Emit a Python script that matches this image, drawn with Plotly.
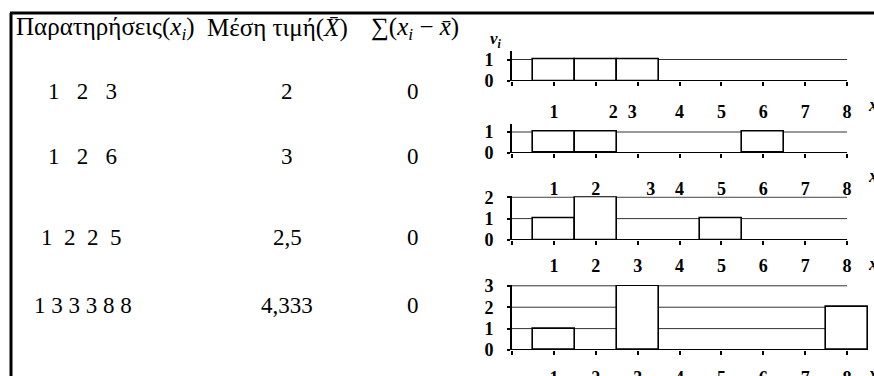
import plotly.graph_objects as go
from collections import Counter

# table rows
observations = [[1, 2, 3], [1, 2, 6], [1, 2, 2, 5], [1, 3, 3, 3, 8, 8]]
obs_labels = ["1   2   3", "1   2   6", "1  2  2  5", "1 3 3 3 8 8"]
mean_labels = ["2", "3", "2,5", "4,333"]
dev_labels = ["0", "0", "0", "0"]
headers = ["Παρατηρήσεις(<i>x<sub>i</sub></i>)", "Μέση τιμή(<i>X\u0304</i>)",
           "∑(<i>x<sub>i</sub></i> − <i>x\u0304</i>)"]

# frequency charts
x_values = [1, 2, 3, 4, 5, 6, 7, 8]
tick_text = ["1", "2", "3", "4", "5", "6", "7", "8"]
freqs = [[Counter(o)[x] for x in x_values] for o in observations]

W, H = 874, 376
serif = "Liberation Serif"

def px(x):
    return x / W

def py(y):
    return 1 - y / H

# pixel layout of the four small charts: (zero line px, px per unit, y range top)
rows = [(81, 21.5, 1.38), (153, 21, 1.4), (240, 21.4, 2.04), (350, 21.4, 3.04)]
# where the printed x labels actually sit (the scan has some out of place)
label_spots = [
    [1, 2.42, 2.87, 4, 5, 6, 7, 8],
    [1, 2, 3.31, 4, 5, 6, 7, 8],
    [1, 2, 3, 4, 5, 6, 7, 8],
    [1, 2, 3, 4, 5, 6, 7, 8],
]
label_gap = [18, 23, 13, 15]

fig = go.Figure()
shapes = []
annotations = []

for i, (bot, unit, ytop) in enumerate(rows):
    top = bot - unit * ytop
    n = "" if i == 0 else str(i + 1)
    xs = [x for x, f in zip(x_values, freqs[i]) if f > 0]
    ys = [f for f in freqs[i] if f > 0]
    fig.add_trace(go.Bar(x=xs, y=ys, width=1, xaxis="x" + n, yaxis="y" + n,
                         marker=dict(color="white", line=dict(color="black", width=1.6)),
                         showlegend=False, hoverinfo="skip"))
    ymax = max(freqs[i])
    fig.layout["xaxis" + n] = dict(
        domain=[px(512), px(868)], range=[0, 8.5], anchor="y" + n, automargin=False,
        showline=False, showgrid=False, zeroline=False,
        tickmode="array", tickvals=label_spots[i], ticktext=tick_text, ticks="",
        ticklabelstandoff=label_gap[i],
        tickfont=dict(family=serif, size=18, color="black", weight="bold"),
        minor=dict(tickmode="array", tickvals=[0] + x_values, ticks="outside",
                   ticklen=4, tickwidth=1.5, tickcolor="black", showgrid=False),
    )
    fig.layout["yaxis" + n] = dict(
        domain=[py(bot), py(top)], range=[0, ytop], anchor="x" + n, automargin=False,
        showline=True, linecolor="black", linewidth=1.6,
        showgrid=False, zeroline=False,
        tickmode="array", tickvals=list(range(ymax + 1)),
        ticks="outside", ticklen=3, tickwidth=1.5, tickcolor="black",
        ticklabelstandoff=10,
        tickfont=dict(family=serif, size=18, color="black", weight="bold"),
    )
    # axis line and grid lines stop at x = 8
    shapes.append(dict(type="line", xref="x" + n, yref="y" + n, x0=0, x1=8, y0=0, y1=0,
                       line=dict(color="black", width=1.8)))
    for lvl in range(1, ymax + 1):
        shapes.append(dict(type="line", xref="x" + n, yref="y" + n, x0=0, x1=8,
                           y0=lvl, y1=lvl, layer="below",
                           line=dict(color="#333", width=1)))
    annotations.append(dict(text="<b><i>x<sub>i</sub></i></b>", xref="paper", yref="paper",
                            x=px(866), y=py(bot + 25), xanchor="left", yanchor="middle",
                            showarrow=False, font=dict(family=serif, size=18, color="black")))

annotations.append(dict(text="<b><i>v<sub>i</sub></i></b>", xref="paper", yref="paper",
                        x=px(496), y=py(40), xanchor="center", yanchor="middle",
                        showarrow=False, font=dict(family=serif, size=17, color="black")))

# table text
header_x = [105, 277, 415]
for hx, h in zip(header_x, headers):
    annotations.append(dict(text=h, xref="paper", yref="paper", x=px(hx), y=py(28),
                            xanchor="center", yanchor="middle", showarrow=False,
                            font=dict(family=serif, size=25, color="black")))

row_y = [92, 156, 237, 305]
obs_x = [82, 82, 81, 83]
for k in range(4):
    for cx, txt in [(obs_x[k], obs_labels[k]), (287, mean_labels[k]), (413, dev_labels[k])]:
        annotations.append(dict(text=txt.replace(" ", "\u00a0"), xref="paper", yref="paper",
                                x=px(cx), y=py(row_y[k]), xanchor="center", yanchor="middle",
                                showarrow=False, font=dict(family=serif, size=23, color="black")))

# table frame
shapes.append(dict(type="line", xref="paper", yref="paper", x0=px(10), x1=1,
                   y0=py(13), y1=py(13), line=dict(color="black", width=3)))
shapes.append(dict(type="line", xref="paper", yref="paper", x0=px(11), x1=px(11),
                   y0=py(13), y1=0, line=dict(color="black", width=3)))

fig.update_layout(width=W, height=H, margin=dict(l=0, r=0, t=0, b=0, autoexpand=False),
                  paper_bgcolor="white", plot_bgcolor="white",
                  shapes=shapes, annotations=annotations, bargap=0)

# page body has a default 8px margin; drop it so the figure fills the window
fig.write_html("out.html", config={"displayModeBar": False},
               post_script="document.body.style.margin='0';")
